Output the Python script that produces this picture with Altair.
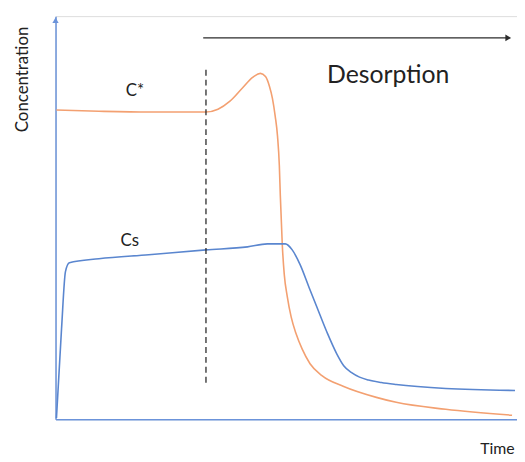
import altair as alt
import pandas as pd

# C* (orange) curve: time (0-100), concentration (0-100)
cstar_t = [0.2, 9.4, 20.2, 32.6, 35.2, 37.8, 40.6, 42.7, 44.4, 45.5, 46.35, 47.0, 47.6, 48.1,
           48.5, 48.71, 49.14, 49.57, 50.21, 51.07, 52.15, 53.43, 55.15, 57.73, 62.45, 69.53,
           73.82, 84.55, 98.93]
cstar_c = [76.7, 76.4, 76.2, 76.2, 76.9, 78.9, 82.3, 84.8, 85.8, 85.0, 82.6, 79.6, 75.2, 70.3,
           62.9, 55.53, 43.24, 35.87, 30.47, 25.31, 21.13, 17.44, 13.76, 10.81, 8.11, 5.41,
           4.18, 2.46, 0.98]

# Cs (blue) curve
cs_t = [0.2, 1.3, 2.15, 3.0, 9.4, 20.2, 32.6, 41.6, 45.9, 49.79, 51.29, 53.0, 54.94, 56.65,
        58.8, 60.94, 62.45, 64.16, 65.88, 67.81, 70.6, 73.82, 84.55, 99.57]
cs_c = [0.3, 22.4, 36.6, 38.8, 39.8, 40.8, 42.0, 42.75, 43.5, 43.49, 42.01, 38.33, 32.68, 27.76,
        21.62, 16.22, 13.27, 11.55, 10.44, 9.71, 9.09, 8.6, 7.62, 7.13]

switch_t = 32.6
switch_c = [86.7, 8.9]
arrow_t = [32.0, 98.1]
arrow_c = 94.6

labels = ["Desorption", "C*", "Cs"]
label_t = [72.1, 17.2, 16.1]
label_c = [85.5, 81.3, 44.2]
label_size = [25, 17, 17]

ORANGE = "#F3A071"
BLUE = "#5A86CF"
AXIS = "#6B93DA"
DARK = "#2b2b2b"

xs = alt.Scale(domain=[0, 100], nice=False, zero=False)
ys = alt.Scale(domain=[0, 100], nice=False, zero=False)
xax = alt.Axis(ticks=False, labels=False, grid=False, title=None, domainColor=AXIS, domainWidth=1.5)
yax = alt.Axis(ticks=False, labels=False, grid=False, title=None, domainColor=AXIS, domainWidth=1.5)

df = pd.concat([
    pd.DataFrame({"t": cstar_t, "c": cstar_c, "s": "C*"}),
    pd.DataFrame({"t": cs_t, "c": cs_c, "s": "Cs"}),
])

lines = alt.Chart(df).mark_line(interpolate="monotone", strokeWidth=1.6).encode(
    x=alt.X("t:Q", scale=xs, axis=xax),
    y=alt.Y("c:Q", scale=ys, axis=yax),
    color=alt.Color("s:N", scale=alt.Scale(domain=["C*", "Cs"], range=[ORANGE, BLUE]), legend=None),
    detail="s:N",
)

dash = alt.Chart(pd.DataFrame({"t": [switch_t], "c1": [switch_c[0]], "c2": [switch_c[1]]})).mark_rule(
    color=DARK, strokeDash=[6, 4], strokeWidth=1.3
).encode(x=alt.X("t:Q", scale=xs), y=alt.Y("c1:Q", scale=ys), y2="c2:Q")

arrow_line = alt.Chart(pd.DataFrame({"t1": [arrow_t[0]], "t2": [arrow_t[1]], "c": [arrow_c]})).mark_rule(
    color=DARK, strokeWidth=1.3
).encode(x=alt.X("t1:Q", scale=xs), x2="t2:Q", y=alt.Y("c:Q", scale=ys))

arrow_head = alt.Chart(pd.DataFrame({"t": [arrow_t[1]], "c": [arrow_c]})).mark_point(
    shape="triangle-right", filled=True, color=DARK, size=45, opacity=1
).encode(x=alt.X("t:Q", scale=xs), y=alt.Y("c:Q", scale=ys))

yarrow = alt.Chart(pd.DataFrame({"t": [0], "c": [99.0]})).mark_point(
    shape="triangle-up", filled=True, color=AXIS, size=40, opacity=1
).encode(x=alt.X("t:Q", scale=xs), y=alt.Y("c:Q", scale=ys))

lab_df = pd.DataFrame({"t": label_t, "c": label_c, "txt": labels, "sz": label_size})
lab = alt.Chart(lab_df).mark_text(font="Lato", color="#222222", baseline="middle", align="center").encode(
    x=alt.X("t:Q", scale=xs), y=alt.Y("c:Q", scale=ys), text="txt:N",
    size=alt.Size("sz:Q", scale=None, legend=None),
)

ytitle = alt.Chart(pd.DataFrame({"t": [-7.1], "c": [84.3], "txt": ["Concentration"]})).mark_text(
    font="Lato", fontSize=17, color="#222222", angle=270, baseline="middle", align="center"
).encode(x=alt.X("t:Q", scale=xs), y=alt.Y("c:Q", scale=ys), text="txt:N")

xtitle = alt.Chart(pd.DataFrame({"t": [99.5], "c": [-7.4], "txt": ["Time"]})).mark_text(
    font="Lato", fontSize=16, color="#222222", baseline="middle", align="right"
).encode(x=alt.X("t:Q", scale=xs), y=alt.Y("c:Q", scale=ys), text="txt:N")

chart = alt.layer(lines, dash, arrow_line, arrow_head, yarrow, lab, ytitle, xtitle).properties(
    width=466, height=407,
    autosize=alt.AutoSizeParams(type="none"),
    padding={"left": 48, "top": 6, "right": 0, "bottom": 40},
).configure_view(stroke=None).configure(background="white")

chart.save("out.html", embed_options={"renderer": "svg", "actions": False})
